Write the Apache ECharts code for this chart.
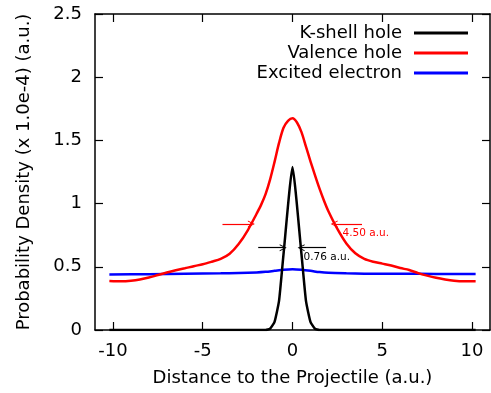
<!DOCTYPE html>
<html>
<head>
<meta charset="utf-8">
<script src="https://cdn.jsdelivr.net/npm/echarts@6/dist/echarts.min.js"></script>
<style>
html,body{margin:0;padding:0;background:#fff;}
#c{width:491px;height:393px;}
</style>
</head>
<body>
<div id="c"></div>
<script>
// ---- data ----
const kShellX = [-10.2, -8, -6, -4, -2, -1.5, -1.25, -1.0, -0.75, -0.5, 0, 0.5, 0.75, 1.0, 1.25, 1.5, 2, 4, 6, 8, 10.2];
const kShellY = [0, 0, 0, 0, 0, 0, 0.01, 0.065, 0.23, 0.6, 1.29, 0.6, 0.23, 0.065, 0.01, 0, 0, 0, 0, 0, 0];

const valenceX = [-10.2, -9.5, -9, -8.5, -8, -7.5, -7, -6.5, -6, -5.5, -5, -4.5, -4, -3.5, -3, -2.5, -2, -1.75, -1.5, -1.25, -1, -0.75, -0.5, -0.25, 0,
                  0.25, 0.5, 0.75, 1, 1.25, 1.5, 1.75, 2, 2.5, 3, 3.5, 4, 4.5, 5, 5.5, 6, 6.5, 7, 7.5, 8, 8.5, 9, 9.5, 10.2];
const valenceY = [0.388, 0.385, 0.39, 0.40, 0.415, 0.435, 0.455, 0.472, 0.488, 0.505, 0.52, 0.54, 0.562, 0.603, 0.68, 0.787, 0.92, 0.99, 1.075, 1.19, 1.33, 1.48, 1.60, 1.655, 1.675,
                  1.642, 1.565, 1.45, 1.335, 1.225, 1.12, 1.025, 0.94, 0.80, 0.685, 0.607, 0.563, 0.54, 0.525, 0.51, 0.49, 0.475, 0.45, 0.43, 0.413, 0.40, 0.39, 0.385, 0.385];

const excitedX = [-10.2, -8, -6, -4, -3, -2, -1.5, -1, -0.5, 0, 0.5, 1, 1.5, 2, 3, 4, 6, 8, 10.2];
const excitedY = [0.44, 0.442, 0.445, 0.448, 0.45, 0.455, 0.46, 0.468, 0.476, 0.48, 0.476, 0.468, 0.458, 0.452, 0.448, 0.446, 0.445, 0.444, 0.443];

const xTicks = [-10, -5, 0, 5, 10];
const seriesNames = ['K-shell hole', 'Valence hole', 'Excited electron'];

// annotation (FWHM arrows) in data units
const redArrowY = 0.839;
const redArrowLeft = [-3.9, -2.29];
const redArrowRight = [3.87, 2.32];
const redLabel = {x: 2.76, y: 0.767, text: '4.50 a.u.'};
const blackArrowY = 0.651;
const blackArrowLeft = [-1.91, -0.52];
const blackArrowRight = [1.87, 0.48];
const blackLabel = {x: 0.59, y: 0.578, text: '0.76 a.u.'};

const FONT = 'DejaVu Sans';
const pairs = (xs, ys) => xs.map((x, i) => [x, ys[i]]);
const chevron = 'path://M0,10 L5,0 L10,10 L8.6,10 L5,2.8 L1.4,10 Z';

function arrowLines(y, left, right, color) {
  return {
    silent: true,
    symbol: ['none', chevron],
    symbolSize: [7, 7],
    label: {show: false},
    lineStyle: {color: color, width: 1.2, type: 'solid'},
    emphasis: {disabled: true},
    data: [
      [{coord: [left[0], y]}, {coord: [left[1], y]}],
      [{coord: [right[0], y]}, {coord: [right[1], y]}]
    ]
  };
}
function textPoint(lbl, color) {
  return {
    silent: true,
    symbol: 'circle',
    symbolSize: 1,
    itemStyle: {color: 'rgba(0,0,0,0)'},
    label: {show: true, position: 'right', distance: 0, formatter: lbl.text,
            color: color, fontSize: 10.5, fontFamily: FONT},
    data: [{coord: [lbl.x, lbl.y]}]
  };
}

const chart = echarts.init(document.getElementById('c'), null, {renderer: 'canvas'});
const axisLine = {show: true, onZero: false, lineStyle: {color: '#000', width: 1.5}};
chart.setOption({
  animation: false,
  backgroundColor: '#fff',
  textStyle: {fontFamily: FONT},
  grid: {left: 95, right: 1, top: 14, bottom: 63, show: false},
  legend: {
    orient: 'vertical', align: 'right', right: 23, top: 23, padding: 0,
    itemWidth: 54, itemHeight: 3, itemGap: 0, icon: 'rect',
    data: seriesNames,
    textStyle: {fontSize: 18, fontFamily: FONT, color: '#000', lineHeight: 20, padding: [0, 7, 0, 0]},
    selectedMode: false
  },
  xAxis: [{
    type: 'value', min: -11, max: 11, position: 'bottom',
    axisLine: axisLine,
    axisTick: {show: true, inside: true, length: 8, customValues: xTicks, lineStyle: {color: '#000', width: 1.2}},
    axisLabel: {show: true, customValues: xTicks, margin: 12, fontSize: 18, fontFamily: FONT, color: '#000'},
    splitLine: {show: false},
    name: 'Distance to the Projectile (a.u.)', nameLocation: 'middle', nameGap: 39,
    nameTextStyle: {fontSize: 18, fontFamily: FONT, color: '#000'}
  }, {
    type: 'value', min: -11, max: 11, position: 'top',
    axisLine: axisLine,
    axisTick: {show: true, inside: true, length: 8, customValues: xTicks, lineStyle: {color: '#000', width: 1.2}},
    axisLabel: {show: false},
    splitLine: {show: false}
  }],
  yAxis: [{
    type: 'value', min: 0, max: 2.5, interval: 0.5, position: 'left',
    axisLine: axisLine,
    axisTick: {show: true, inside: true, length: 8, lineStyle: {color: '#000', width: 1.2}},
    axisLabel: {show: true, margin: 13, fontSize: 18, fontFamily: FONT, color: '#000'},
    splitLine: {show: false},
    name: 'Probability Density (x 1.0e-4) (a.u.)', nameLocation: 'middle', nameGap: 62,
    nameTextStyle: {fontSize: 18, fontFamily: FONT, color: '#000'}
  }, {
    type: 'value', min: 0, max: 2.5, interval: 0.5, position: 'right',
    axisLine: axisLine,
    axisTick: {show: true, inside: true, length: 8, lineStyle: {color: '#000', width: 1.2}},
    axisLabel: {show: false},
    splitLine: {show: false}
  }],
  series: [{
    name: seriesNames[2], type: 'line', data: pairs(excitedX, excitedY),
    showSymbol: false, smooth: 0.3, z: 2,
    lineStyle: {color: '#0000ff', width: 2.5}, itemStyle: {color: '#0000ff'}
  }, {
    name: seriesNames[1], type: 'line', data: pairs(valenceX, valenceY),
    showSymbol: false, smooth: 0.3, z: 3,
    lineStyle: {color: '#ff0000', width: 2.5}, itemStyle: {color: '#ff0000'},
    markLine: arrowLines(redArrowY, redArrowLeft, redArrowRight, '#ff0000'),
    markPoint: textPoint(redLabel, '#ff0000')
  }, {
    name: seriesNames[0], type: 'line', data: pairs(kShellX, kShellY),
    showSymbol: false, smooth: 0.15, z: 4,
    lineStyle: {color: '#000000', width: 2.5}, itemStyle: {color: '#000000'},
    markLine: arrowLines(blackArrowY, blackArrowLeft, blackArrowRight, '#000000'),
    markPoint: textPoint(blackLabel, '#000000')
  }]
});
</script>
</body>
</html>
